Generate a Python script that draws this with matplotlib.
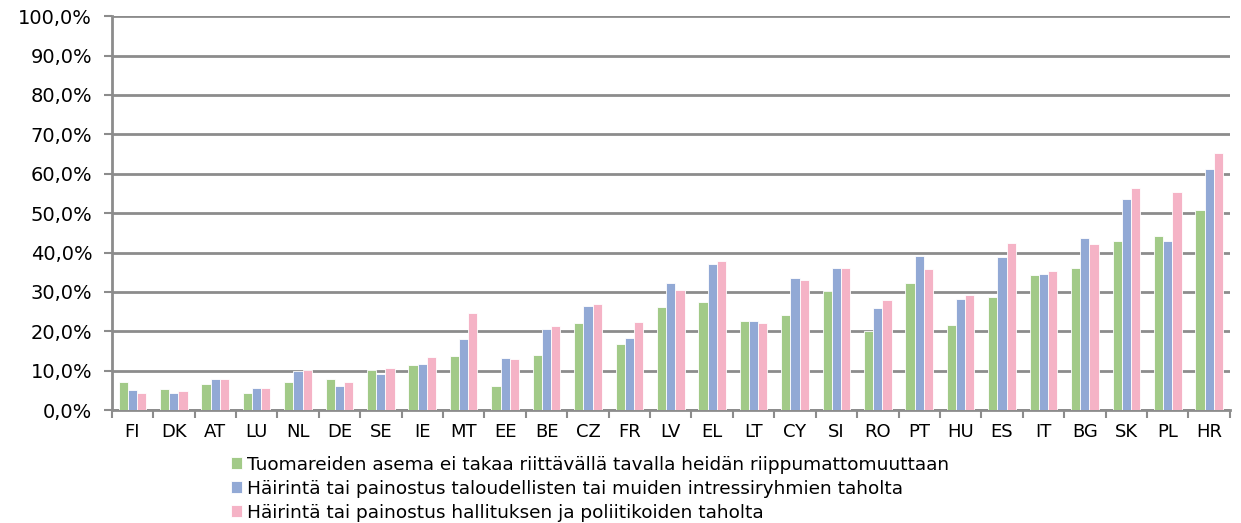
import numpy as np
import matplotlib
matplotlib.use("Agg")
import matplotlib.pyplot as plt
from matplotlib.ticker import FuncFormatter, MultipleLocator, FixedLocator

# Data (percent)
countries = ["FI", "DK", "AT", "LU", "NL", "DE", "SE", "IE", "MT", "EE", "BE", "CZ", "FR", "LV",
             "EL", "LT", "CY", "SI", "RO", "PT", "HU", "ES", "IT", "BG", "SK", "PL", "HR"]
asema = [7.2, 5.3, 6.5, 4.3, 7.2, 7.9, 10.2, 11.5, 13.7, 6.2, 13.9, 22.1, 16.7, 26.1,
         27.4, 22.6, 24.2, 30.3, 20.0, 32.3, 21.5, 28.6, 34.3, 36.1, 43.0, 44.3, 50.9]
talous = [5.0, 4.3, 7.9, 5.5, 10.0, 6.2, 9.2, 11.7, 18.1, 13.1, 20.6, 26.4, 18.4, 32.3,
          37.0, 22.6, 33.6, 36.1, 25.9, 39.0, 28.2, 38.8, 34.6, 43.8, 53.6, 43.0, 61.3]
hallitus = [4.3, 4.8, 7.9, 5.5, 10.2, 7.2, 10.7, 13.4, 24.7, 12.9, 21.4, 26.9, 22.4, 30.5,
            37.9, 22.1, 33.1, 36.1, 28.0, 35.8, 29.1, 42.5, 35.3, 42.2, 56.3, 55.4, 65.3]
labels = [
    "Tuomareiden asema ei takaa riittävällä tavalla heidän riippumattomuuttaan",
    "Häirintä tai painostus taloudellisten tai muiden intressiryhmien taholta",
    "Häirintä tai painostus hallituksen ja poliitikoiden taholta",
]
colors = ["#A2CA88", "#92A9D5", "#F5B3C6"]

fig = plt.figure(figsize=(12.41, 5.23), dpi=100)
ax = fig.add_axes([0.090, 0.216, 0.901, 0.753])

x = np.arange(len(countries))
w = 0.222
series = [asema, talous, hallitus]
for i, (vals, col, lab) in enumerate(zip(series, colors, labels)):
    ax.bar(x + (i - 1) * w, vals, width=w, color=col, edgecolor="white",
           linewidth=0.6, label=lab, zorder=3)

ax.set_xlim(-0.5, len(countries) - 0.5)
ax.set_ylim(0, 100)
ax.yaxis.set_major_locator(MultipleLocator(10))
ax.yaxis.set_major_formatter(FuncFormatter(lambda v, p: f"{v:.1f}%".replace(".", ",")))
ax.grid(axis="y", color="#8c8c8c", linewidth=2, zorder=0)

ax.set_xticks(x)
ax.set_xticklabels(countries, fontsize=13)
ax.xaxis.set_minor_locator(FixedLocator(np.arange(-0.5, len(countries), 1)))
ax.tick_params(axis="x", which="major", length=0, pad=9)
ax.tick_params(axis="x", which="minor", length=6, width=1.5, color="#8c8c8c")
ax.tick_params(axis="y", length=6, width=1.5, color="#8c8c8c", labelsize=14, pad=8)

for side in ["top", "right"]:
    ax.spines[side].set_visible(False)
for side in ["left", "bottom"]:
    ax.spines[side].set_color("#8c8c8c")
    ax.spines[side].set_linewidth(2)

leg = fig.legend(loc="upper left", bbox_to_anchor=(0.180, 0.143), frameon=False,
                 handlelength=0.6, handleheight=0.6, handletextpad=0.3,
                 labelspacing=0.33, borderaxespad=0,
                 prop={"family": "DejaVu Sans", "size": 13.3})

fig.savefig("out.png", dpi=100)
